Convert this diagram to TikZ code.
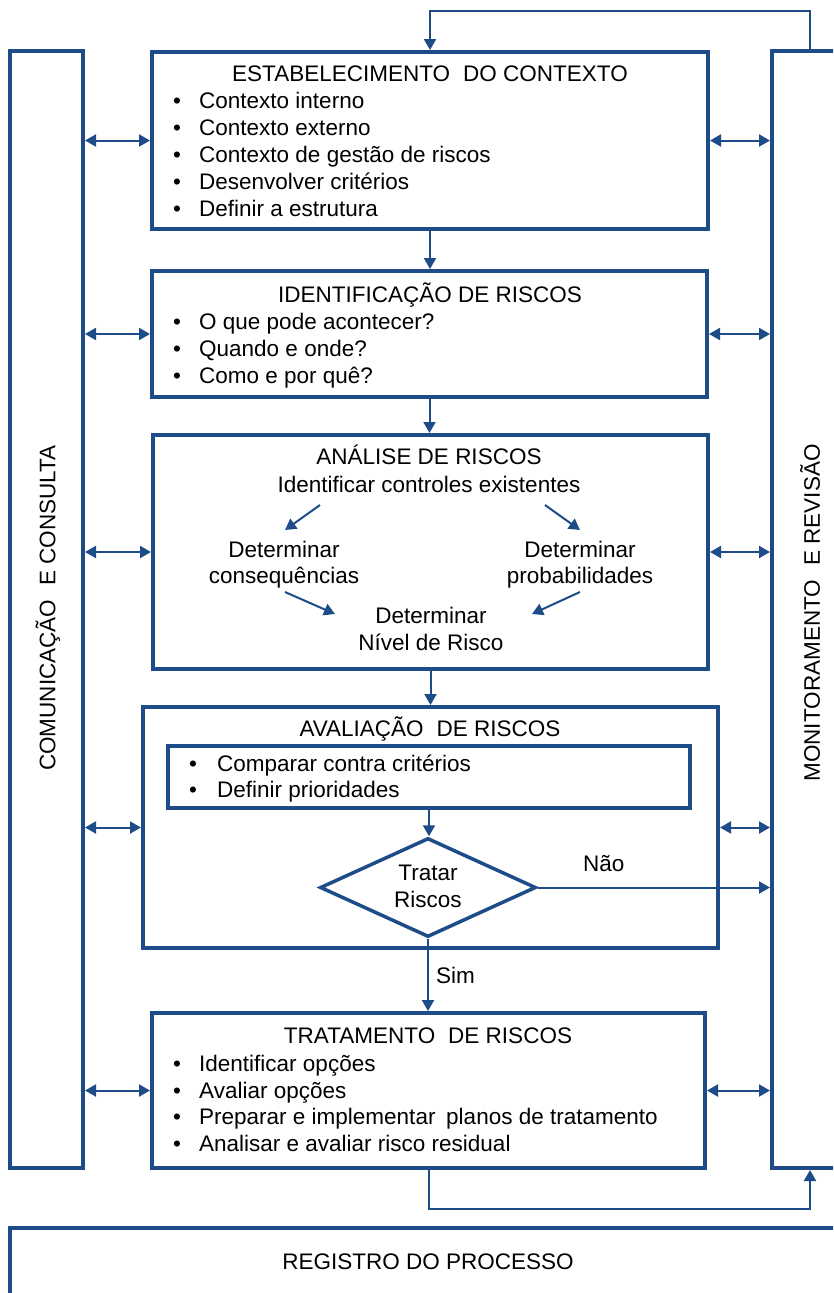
\documentclass[tikz,border=0pt]{standalone}
\usepackage{fontspec}
\setmainfont{Liberation Sans}
\usetikzlibrary{arrows.meta,shapes.geometric}
\definecolor{dblue}{RGB}{30,76,137}
\newcommand\itembul{\makebox[26pt][l]{\textbullet}}
\newcommand\itembulw{\makebox[28pt][l]{\textbullet}}
\tikzset{
  frame/.style={draw=dblue, line width=4pt, rectangle, inner sep=0pt, fill=white},
  txt/.style={font=\fontsize{22.5}{27}\selectfont, text=black, inner sep=0pt},
  arr/.style={draw=dblue, line width=2pt, -{Triangle[length=11pt,width=12pt]}},
  darr/.style={draw=dblue, line width=2pt, {Triangle[length=11pt,width=12pt]}-{Triangle[length=11pt,width=12pt]}},
}
\begin{document}
\begin{tikzpicture}[x=1pt,y=-1pt]
\useasboundingbox (0,0) rectangle (833,1293);
\fill[white] (0,0) rectangle (833,1293);
\clip (0,0) rectangle (833,1293);

% side columns and record bar
\node[frame, minimum width=73pt, minimum height=1117pt] (comm) at (46.5,609.5) {};
\node[frame, minimum width=88pt, minimum height=1117pt] (mon) at (816,609.5) {};
\node[frame, minimum width=900pt, minimum height=110pt] (reg) at (460,1283) {};

% process boxes
\node[frame, minimum width=556pt, minimum height=177pt] (ctx) at (430,140.5) {};
\node[frame, minimum width=555pt, minimum height=126pt] (ident) at (429.5,334) {};
\node[frame, minimum width=555pt, minimum height=234pt] (anal) at (430.5,552) {};
\node[frame, minimum width=575pt, minimum height=241pt] (aval) at (430.5,827.5) {};
\node[frame, minimum width=522pt, minimum height=62pt] (crit) at (429,777) {};
\node[draw=dblue, line width=3.5pt, diamond, inner sep=0pt, minimum width=216pt, minimum height=99pt, fill=white] (dia) at (428,887.5) {};
\node[frame, minimum width=553pt, minimum height=155pt] (treat) at (428.5,1090.5) {};

% column labels
\node[txt, rotate=90] (commtxt) at (48,608) {COMUNICAÇÃO\hspace{0.35em} E CONSULTA};
\node[txt, rotate=90] (montxt) at (810,613) {MONITORAMENTO\hspace{0.35em} E REVISÃO};
\node[txt, anchor=base] (regtxt) at (428,1269) {REGISTRO DO PROCESSO};

% establishing the context
\node[txt, anchor=base] (ctxt) at (430,81) {ESTABELECIMENTO\hspace{0.3em} DO CONTEXTO};
\node[txt, anchor=base west] (c1) at (173,108) {\itembul Contexto interno};
\node[txt, anchor=base west] (c2) at (173,135) {\itembul Contexto externo};
\node[txt, anchor=base west] (c3) at (173,162) {\itembul Contexto de gestão de riscos};
\node[txt, anchor=base west] (c4) at (173,189) {\itembul Desenvolver critérios};
\node[txt, anchor=base west] (c5) at (173,216) {\itembul Definir a estrutura};

% identification
\node[txt, anchor=base] (it) at (430,302) {IDENTIFICAÇÃO DE RISCOS};
\node[txt, anchor=base west] (i1) at (173,329) {\itembul O que pode acontecer?};
\node[txt, anchor=base west] (i2) at (173,356) {\itembul Quando e onde?};
\node[txt, anchor=base west] (i3) at (173,383) {\itembul Como e por quê?};

% analysis
\node[txt, anchor=base] (at) at (429,464) {ANÁLISE DE RISCOS};
\node[txt, anchor=base] (actrl) at (429,492) {Identificar controles existentes};
\node[txt, anchor=base] (acons1) at (284,557) {Determinar};
\node[txt, anchor=base] (acons2) at (284,583) {consequências};
\node[txt, anchor=base] (aprob1) at (580,557) {Determinar};
\node[txt, anchor=base] (aprob2) at (580,583) {probabilidades};
\node[txt, anchor=base] (aniv1) at (431,623) {Determinar};
\node[txt, anchor=base] (aniv2) at (431,650) {Nível de Risco};
\coordinate (a1s) at (320,505); \coordinate (a1e) at (285,530);
\coordinate (a2s) at (545,505); \coordinate (a2e) at (580,530);
\coordinate (a3s) at (285,592); \coordinate (a3e) at (335,614);
\coordinate (a4s) at (580,592); \coordinate (a4e) at (532,614);
\draw[arr] (a1s) -- (a1e);
\draw[arr] (a2s) -- (a2e);
\draw[arr] (a3s) -- (a3e);
\draw[arr] (a4s) -- (a4e);

% evaluation
\node[txt, anchor=base] (vt) at (430,736) {AVALIAÇÃO\hspace{0.3em} DE RISCOS};
\node[txt, anchor=base west] (v1) at (189,771) {\itembulw Comparar contra critérios};
\node[txt, anchor=base west] (v2) at (189,797) {\itembulw Definir prioridades};
\node[txt, anchor=base] (d1) at (428,880) {Tratar};
\node[txt, anchor=base] (d2) at (428,907) {Riscos};
\node[txt, anchor=base west] (nao) at (583,871) {Não};
\node[txt, anchor=base west] (sim) at (436,983) {Sim};

% treatment
\node[txt, anchor=base] (tt) at (428,1043) {TRATAMENTO\hspace{0.3em} DE RISCOS};
\node[txt, anchor=base west] (t1) at (173,1071) {\itembul Identificar opções};
\node[txt, anchor=base west] (t2) at (173,1098) {\itembul Avaliar opções};
\node[txt, anchor=base west] (t3) at (173,1124) {\itembul Preparar e implementar\hspace{0.2em} planos de tratamento};
\node[txt, anchor=base west] (t4) at (173,1151) {\itembul Analisar e avaliar risco residual};

% main flow
\draw[arr] (ctx.south) -- (ctx.south |- ident.north);
\draw[arr] (ident.south) -- (ident.south |- anal.north);
\draw[arr] (anal.south) -- (anal.south |- aval.north);
\draw[arr] (crit.south) -- (crit.south |- dia.north);
\draw[arr] (dia.south) -- (dia.south |- treat.north);
\draw[arr] (dia.east) -- (dia.east -| mon.west);

% feedback loops
\coordinate (loopT) at (810,11);
\coordinate (loopB) at (810,1209);
\draw[arr] (loopT |- mon.north) -- (loopT) -| (ctx.north);
\draw[arr] (treat.south) |- (loopB) -- (loopB |- mon.south);

% communication and monitoring links
\foreach \b in {ctx,ident,anal,aval,treat}{
  \draw[darr] (comm.east |- \b.west) -- (\b.west);
  \draw[darr] (\b.east) -- (\b.east -| mon.west);
}
\end{tikzpicture}
\end{document}
